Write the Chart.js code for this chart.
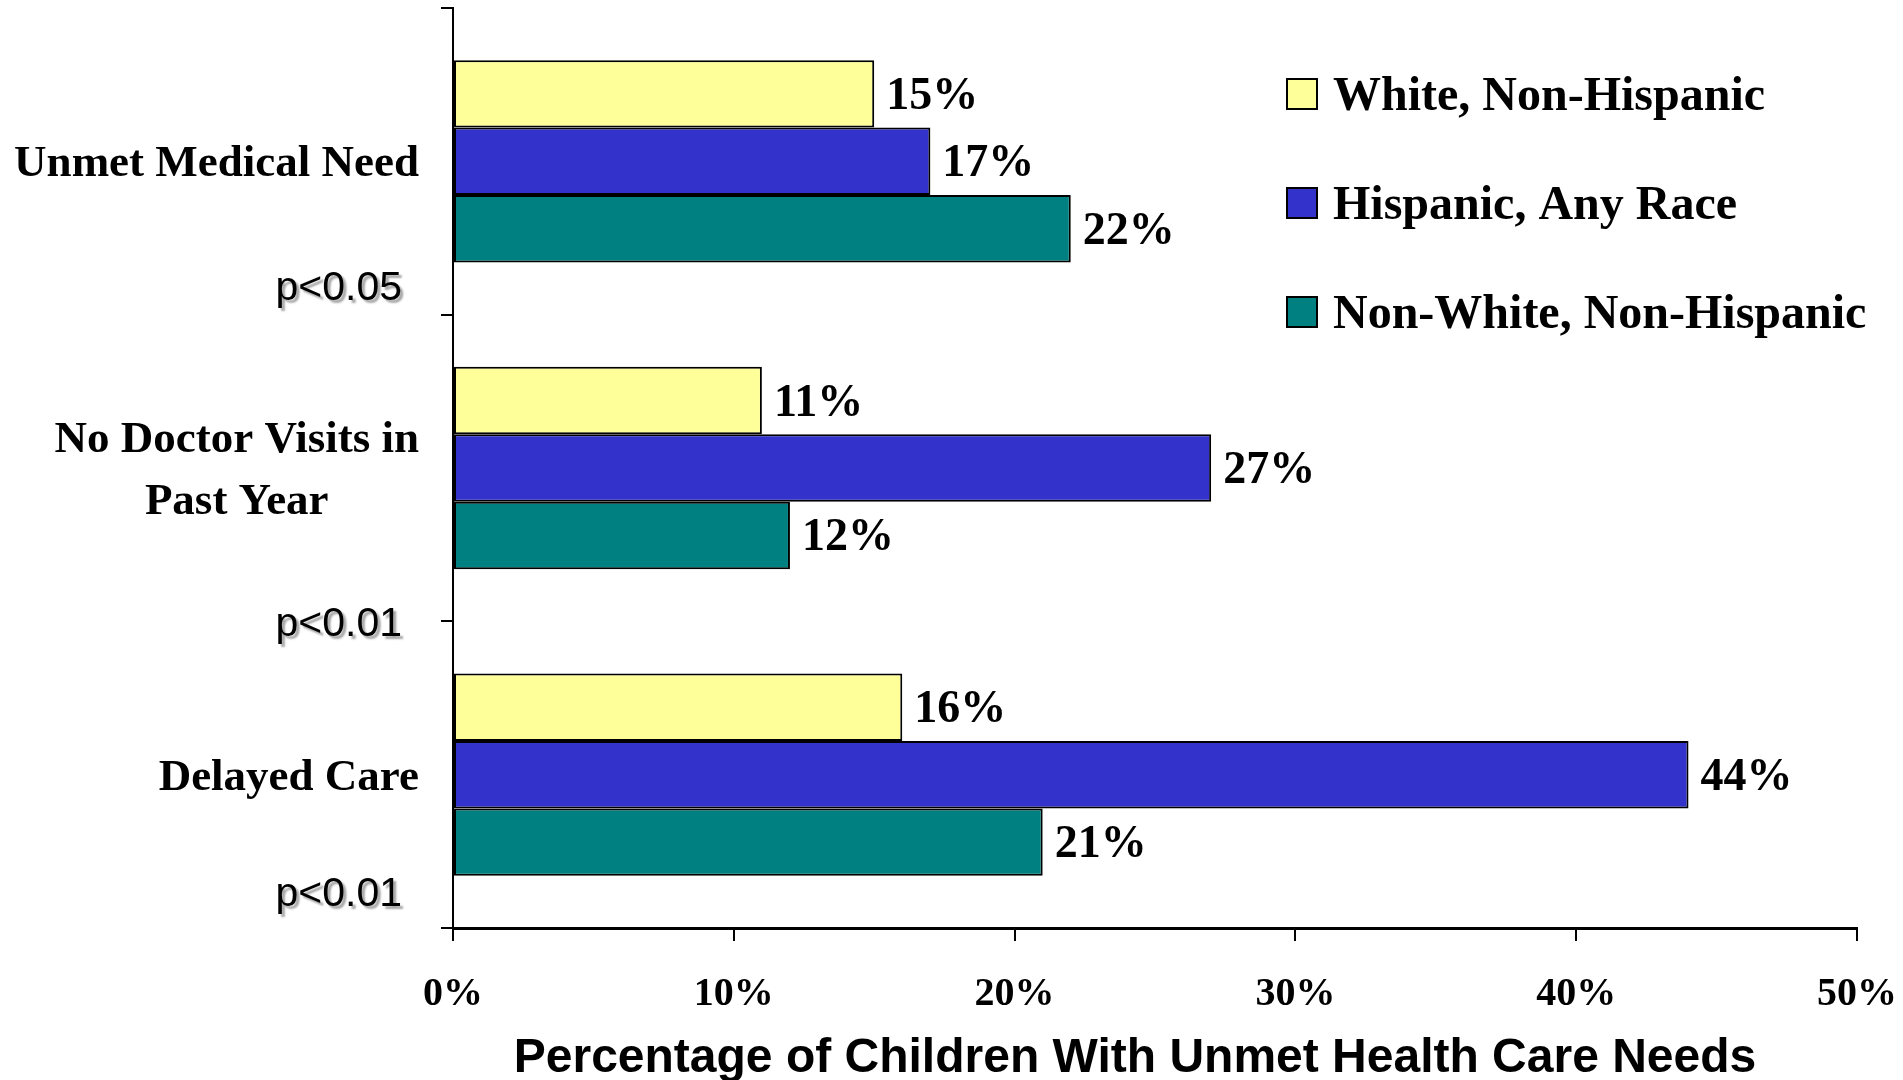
<!DOCTYPE html>
<html>
<head>
<meta charset="utf-8">
<script src="https://cdn.jsdelivr.net/npm/chart.js@4.4.1/dist/chart.umd.min.js"></script>
<style>
  html, body { margin: 0; padding: 0; background: #ffffff; }
  canvas { display: block; }
</style>
</head>
<body>
<canvas id="chart" width="1903" height="1080"></canvas>
<script>
// Categories (multi-line labels are arrays of lines)
const categories = [
  ["Unmet Medical Need"],
  ["No Doctor Visits in", "Past Year"],
  ["Delayed Care"]
];

// Significance notes per category
const significance = ["p<0.05", "p<0.01", "p<0.01"];

// Series values, percent of children
const whiteNonHispanic = [15, 11, 16];
const hispanicAnyRace = [17, 27, 44];
const nonWhiteNonHispanic = [22, 12, 21];

const seriesNames = ["White, Non-Hispanic", "Hispanic, Any Race", "Non-White, Non-Hispanic"];
const seriesColors = ["#FFFF99", "#3333CC", "#008080"];

// X axis ticks
const xTicks = [0, 10, 20, 30, 40, 50];
const xTitle = "Percentage of Children With Unmet Health Care Needs";

const SERIF = "'Liberation Serif', 'Times New Roman', serif";
const SANS = "'Liberation Sans', Arial, sans-serif";

// Where each p-value note sits, in category units from the category centre
const noteOffsets = [0.415, 0.51, 0.39];

const annotations = {
  id: "annotations",
  afterDraw(chart) {
    const ctx = chart.ctx;
    const yScale = chart.scales.y;
    const xScale = chart.scales.x;
    const area = chart.chartArea;
    ctx.save();

    // Category labels: block right-aligned, lines centred on each other
    ctx.fillStyle = "#000";
    ctx.font = "bold 45px " + SERIF;
    ctx.textBaseline = "alphabetic";
    ctx.textAlign = "center";
    const lineGap = 62;
    const rightEdge = area.left - 34;
    categories.forEach((lines, i) => {
      const cy = yScale.getPixelForValue(i);
      const maxW = Math.max(...lines.map(l => ctx.measureText(l).width));
      const cx = rightEdge - maxW / 2;
      const startY = cy - (lines.length - 1) * lineGap / 2;
      lines.forEach((l, k) => {
        ctx.fillText(l, cx, startY + k * lineGap + 15);
      });
    });

    // Significance notes with a soft drop shadow
    ctx.font = "41px " + SANS;
    ctx.textAlign = "right";
    ctx.textBaseline = "middle";
    const step = yScale.getPixelForValue(1) - yScale.getPixelForValue(0);
    significance.forEach((s, i) => {
      const y = yScale.getPixelForValue(i) + noteOffsets[i] * step;
      ctx.save();
      ctx.shadowColor = "rgba(0,0,0,0.35)";
      ctx.shadowOffsetX = 3;
      ctx.shadowOffsetY = 3;
      ctx.shadowBlur = 2;
      ctx.fillStyle = "#000";
      ctx.fillText(s, area.left - 51, y);
      ctx.restore();
    });

    // Value labels at the end of each bar
    ctx.font = "bold 46px " + SERIF;
    ctx.textAlign = "left";
    ctx.textBaseline = "alphabetic";
    ctx.fillStyle = "#000";
    chart.data.datasets.forEach((ds, di) => {
      const meta = chart.getDatasetMeta(di);
      meta.data.forEach((bar, i) => {
        ctx.fillText(ds.data[i] + "%", bar.x + 12, bar.y + 15);
      });
    });

    // Legend
    ctx.font = "bold 48px " + SERIF;
    const legX = 1287, legY0 = 94, legStep = 109, box = 30;
    chart.data.datasets.forEach((ds, di) => {
      const cy = legY0 + di * legStep;
      ctx.fillStyle = ds.backgroundColor;
      ctx.fillRect(legX, cy - box / 2, box, box);
      ctx.lineWidth = 2;
      ctx.strokeStyle = "#000";
      ctx.strokeRect(legX, cy - box / 2, box, box);
      ctx.fillStyle = "#000";
      ctx.fillText(ds.label, legX + 46, cy + 16);
    });

    // Axis title
    ctx.font = "bold 48px " + SANS;
    ctx.textAlign = "center";
    ctx.fillText(xTitle, (xScale.left + xScale.right) / 2 - 20, 1072);

    ctx.restore();
  }
};

new Chart(document.getElementById("chart"), {
  type: "bar",
  data: {
    labels: categories.map(c => c.join(" ")),
    datasets: [
      { label: seriesNames[0], data: whiteNonHispanic, backgroundColor: seriesColors[0] },
      { label: seriesNames[1], data: hispanicAnyRace, backgroundColor: seriesColors[1] },
      { label: seriesNames[2], data: nonWhiteNonHispanic, backgroundColor: seriesColors[2] }
    ].map(d => Object.assign(d, {
      borderColor: "#000",
      borderWidth: 2,
      borderSkipped: false,
      categoryPercentage: 0.66,
      barPercentage: 1.0
    }))
  },
  options: {
    indexAxis: "y",
    responsive: false,
    devicePixelRatio: 1,
    animation: false,
    layout: { padding: { top: 8, right: 46, left: 0, bottom: 0 } },
    plugins: {
      legend: { display: false },
      tooltip: { enabled: false },
      title: { display: false }
    },
    scales: {
      x: {
        type: "linear",
        min: xTicks[0],
        max: xTicks[xTicks.length - 1],
        afterFit(scale) {
          scale.height = 152;
          scale.paddingLeft = 0;
          scale.paddingRight = 0;
        },
        afterBuildTicks(scale) { scale.ticks = xTicks.map(v => ({ value: v })); },
        ticks: {
          callback: v => v + "%",
          color: "#000",
          font: { family: SERIF, weight: "bold", size: 40 },
          padding: 30,
          maxRotation: 0
        },
        grid: {
          drawOnChartArea: false,
          drawTicks: true,
          tickLength: 13,
          color: "#000",
          lineWidth: 2
        },
        border: { display: true, color: "#000", width: 3 }
      },
      y: {
        type: "category",
        afterFit(scale) { scale.width = 453; },
        ticks: { display: false },
        grid: {
          offset: true,
          drawOnChartArea: false,
          drawTicks: true,
          tickLength: 12,
          color: "#000",
          lineWidth: 2
        },
        border: { display: true, color: "#000", width: 2 }
      }
    }
  },
  plugins: [annotations]
});
</script>
</body>
</html>
